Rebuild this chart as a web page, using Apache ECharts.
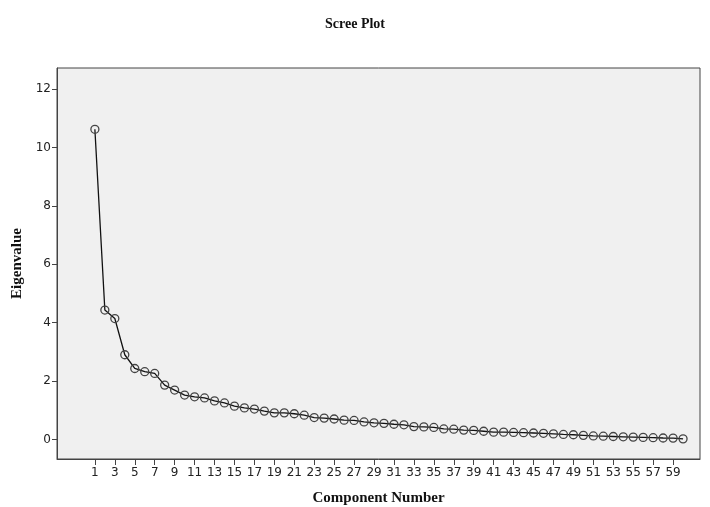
<!DOCTYPE html>
<html>
<head>
<meta charset="utf-8">
<script src="https://cdn.jsdelivr.net/npm/echarts@6/dist/echarts.min.js"></script>
<style>
  html, body { margin: 0; padding: 0; background: #fff; }
  #chart { width: 710px; height: 507px; }
</style>
</head>
<body>
<div id="chart"></div>
<script>
const eigenvalues = [
  10.62, 4.43, 4.14, 2.90, 2.43, 2.32, 2.26, 1.86, 1.69, 1.52,
  1.46, 1.42, 1.32, 1.25, 1.14, 1.08, 1.04, 0.97, 0.91, 0.91,
  0.88, 0.83, 0.75, 0.73, 0.70, 0.66, 0.65, 0.60, 0.57, 0.55,
  0.52, 0.50, 0.44, 0.43, 0.41, 0.36, 0.35, 0.32, 0.31, 0.28,
  0.25, 0.25, 0.24, 0.23, 0.22, 0.21, 0.19, 0.17, 0.16, 0.14,
  0.12, 0.11, 0.10, 0.09, 0.08, 0.07, 0.06, 0.05, 0.045, 0.02
]
const xTicks = []
for (let i = 1; i <= 59; i += 2) xTicks.push(i)
const yTicks = [0, 2, 4, 6, 8, 10, 12]

const points = eigenvalues.map((v, i) => [i + 1, v])

const chart = echarts.init(document.getElementById('chart'))
const tickFont = { color: '#222', fontSize: 12, fontFamily: 'DejaVu Sans' }
const nameFont = { fontFamily: 'Liberation Serif', fontWeight: 'bold', fontSize: 15, color: '#111' }

chart.setOption({
  animation: false,
  title: {
    text: 'Scree Plot',
    left: 'center',
    top: 12,
    textStyle: { fontFamily: 'Liberation Serif', fontWeight: 'bold', fontSize: 14, color: '#111' },
  },
  grid: {
    left: 57,
    right: 10,
    top: 68,
    bottom: 48,
    outerBoundsMode: 'none',
    containLabel: false,
    show: true,
    backgroundColor: '#f0f0f0',
    borderColor: '#444',
    borderWidth: 1,
  },
  xAxis: {
    type: 'value',
    min: -2.8,
    max: 61.7,
    name: 'Component Number',
    nameLocation: 'middle',
    nameGap: 32,
    nameTextStyle: nameFont,
    axisLine: { show: true, onZero: false, lineStyle: { color: '#444' } },
    axisTick: { show: true, length: 6, customValues: xTicks, lineStyle: { color: '#444' } },
    axisLabel: { customValues: xTicks, margin: 8, ...tickFont },
    splitLine: { show: false },
  },
  yAxis: {
    type: 'value',
    min: -0.67,
    max: 12.72,
    name: 'Eigenvalue',
    nameLocation: 'middle',
    nameGap: 31,
    nameRotate: 90,
    nameTextStyle: nameFont,
    axisLine: { show: true, onZero: false, lineStyle: { color: '#444' } },
    axisTick: { show: true, length: 5, customValues: yTicks, lineStyle: { color: '#444' } },
    axisLabel: { customValues: yTicks, margin: 6, ...tickFont },
    splitLine: { show: false },
  },
  series: [
    {
      type: 'line',
      data: points,
      symbol: 'circle',
      symbolSize: 8,
      showSymbol: true,
      lineStyle: { color: '#111', width: 1.3 },
      itemStyle: { color: 'rgba(0,0,0,0)', borderColor: '#444', borderWidth: 1.3 },
    },
  ],
})
</script>
</body>
</html>
